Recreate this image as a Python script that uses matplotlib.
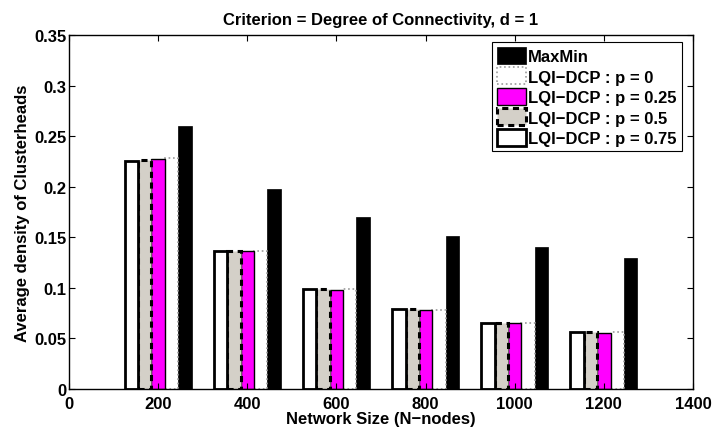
import numpy as np
import matplotlib.pyplot as plt

# data
network_size = [200, 400, 600, 800, 1000, 1200]
maxmin = [0.260, 0.198, 0.170, 0.151, 0.140, 0.130]
lqi_p0 = [0.228, 0.136, 0.099, 0.078, 0.065, 0.056]
lqi_p025 = [0.227, 0.136, 0.098, 0.078, 0.065, 0.055]
lqi_p05 = [0.226, 0.136, 0.099, 0.079, 0.065, 0.056]
lqi_p075 = [0.225, 0.136, 0.099, 0.079, 0.065, 0.056]

x_ticks = [0, 200, 400, 600, 800, 1000, 1200, 1400]
y_ticks = [0, 0.05, 0.1, 0.15, 0.2, 0.25, 0.3, 0.35]
y_tick_labels = ['0', '0.05', '0.1', '0.15', '0.2', '0.25', '0.3', '0.35']

plt.rcParams['font.family'] = ['Liberation Sans', 'DejaVu Sans']
plt.rcParams['font.weight'] = 'bold'

fig = plt.figure(figsize=(7.12, 4.31), dpi=100)
ax = fig.add_axes([69 / 712, 1 - 390 / 431, (693 - 69) / 712, (390 - 36) / 431])

x = np.array(network_size)
w = 30

# legend order is MaxMin first, but bars sit in reverse order left->right
h_max = ax.bar(x + 2 * w, maxmin, w, color='black', edgecolor='black', lw=0.5,
               label='MaxMin')
h_p0 = ax.bar(x + w, lqi_p0, w, color='white', edgecolor='#9a9a9a', lw=1.2,
              linestyle=':', label='LQI\u2212DCP : p = 0')
h_p025 = ax.bar(x, lqi_p025, w, color='#ff00ff', edgecolor='black', lw=1.0,
                label='LQI\u2212DCP : p = 0.25')
h_p05 = ax.bar(x - w, lqi_p05, w, color='#d4d0c8', edgecolor='black', lw=2.2,
               linestyle=(0, (2, 1.5)), label='LQI\u2212DCP : p = 0.5')
h_p075 = ax.bar(x - 2 * w, lqi_p075, w, color='white', edgecolor='black', lw=2.0,
                label='LQI\u2212DCP : p = 0.75')

ax.set_xlim(0, 1400)
ax.set_ylim(0, 0.35)
ax.set_xticks(x_ticks)
ax.set_yticks(y_ticks)
ax.set_yticklabels(y_tick_labels)
ax.tick_params(direction='in', top=True, right=True, labelsize=12, length=4,
               width=0.8, pad=2)
ax.tick_params(axis='x', pad=5)
for lab in ax.get_xticklabels() + ax.get_yticklabels():
    lab.set_fontweight('bold')
for s in ax.spines.values():
    s.set_linewidth(1.0)

ax.set_xlabel('Network Size (N\u2212nodes)', fontsize=12, fontweight='bold', labelpad=0)
ax.set_ylabel('Average density of Clusterheads', fontsize=12, fontweight='bold', labelpad=3)
ax.set_title('Criterion = Degree of Connectivity, d = 1', fontsize=12,
             fontweight='bold', pad=8)

leg = ax.legend(handles=[h_max, h_p0, h_p025, h_p05, h_p075], loc='upper right',
                bbox_to_anchor=(0.987, 0.99), fancybox=False, framealpha=1,
                edgecolor='black', prop={'weight': 'bold', 'size': 12},
                handlelength=1.7, handleheight=1.2, handletextpad=0.15,
                borderpad=0.3, labelspacing=0.2, borderaxespad=0.2)
leg.get_frame().set_linewidth(0.8)

fig.savefig('out.png', dpi=100)
